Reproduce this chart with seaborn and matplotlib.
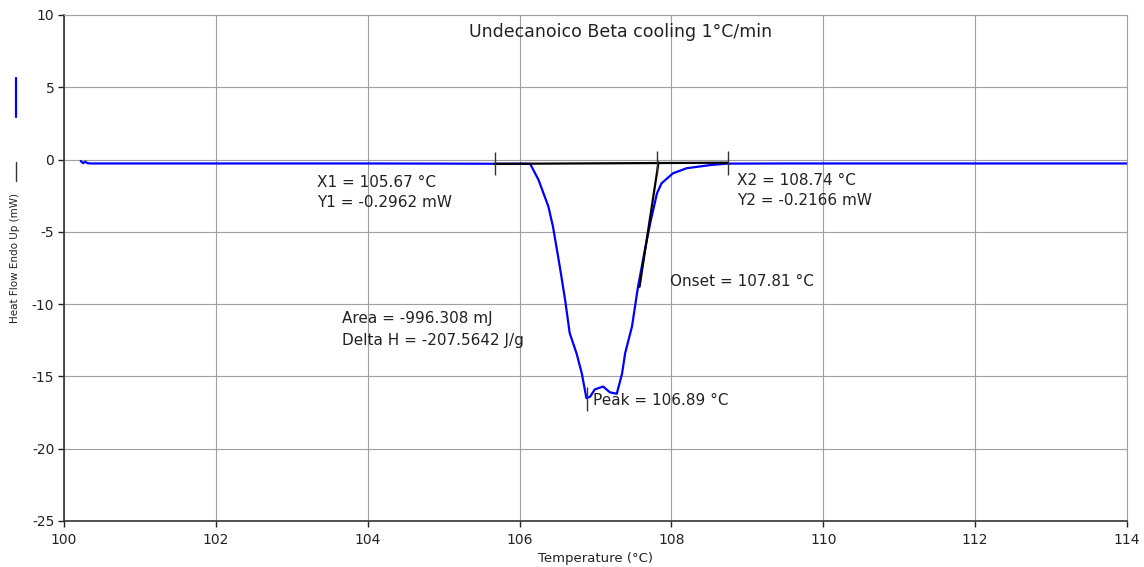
import matplotlib
matplotlib.use("Agg")
import matplotlib.pyplot as plt
import seaborn as sns
import pandas as pd
from matplotlib.lines import Line2D

# ---- data ----
temperature = [100.22, 100.25, 100.28, 100.31, 100.35, 101.0, 102.0, 103.0, 104.0, 105.0,
               105.67, 106.0, 106.14, 106.25, 106.38, 106.44, 106.53, 106.60, 106.66,
               106.75, 106.82, 106.88, 106.93, 106.99, 107.10, 107.19, 107.28, 107.35,
               107.39, 107.48, 107.56, 107.65, 107.72, 107.81, 107.87, 108.02, 108.20,
               108.51, 108.74, 109.5, 110.0, 111.0, 112.0, 113.0, 114.0]
heat_flow = [-0.10, -0.25, -0.15, -0.25, -0.27, -0.27, -0.27, -0.27, -0.27, -0.28,
             -0.29, -0.29, -0.30, -1.41, -3.26, -4.64, -7.41, -9.71, -12.0,
             -13.4, -14.8, -16.5, -16.4, -15.9, -15.7, -16.1, -16.2, -14.8,
             -13.4, -11.56, -8.79, -6.26, -4.41, -2.33, -1.64, -0.95, -0.60,
             -0.38, -0.28, -0.27, -0.27, -0.27, -0.27, -0.27, -0.27]

x1, y1 = 105.67, -0.2962
x2, y2 = 108.74, -0.2166
onset_x = 107.81
peak_x, peak_y = 106.89, -16.5
tangent_x = [107.83, 107.58]
tangent_y = [-0.20, -8.8]

title = "Undecanoico Beta cooling 1°C/min"
x_label = "Temperature (°C)"
y_label = "Heat Flow Endo Up (mW)"
x_ticks = [100, 102, 104, 106, 108, 110, 112, 114]
y_ticks = [-25, -20, -15, -10, -5, 0, 5, 10]

annotations = [
    (103.33, -1.6, "X1 = 105.67 °C"),
    (103.33, -3.0, "Y1 = -0.2962 mW"),
    (108.87, -1.46, "X2 = 108.74 °C"),
    (108.87, -2.8, "Y2 = -0.2166 mW"),
    (103.66, -11.0, "Area = -996.308 mJ"),
    (103.66, -12.5, "Delta H = -207.5642 J/g"),
    (107.98, -8.4, "Onset = 107.81 °C"),
    (106.97, -16.65, "Peak = 106.89 °C"),
]

# ---- style ----
sns.set_theme(style="white")
plt.rcParams["font.family"] = ["DejaVu Sans"]

fig = plt.figure(figsize=(11.44, 5.67), dpi=100)
ax = fig.add_axes([64 / 1144, 1 - 521 / 567, (1127 - 64) / 1144, (521 - 15) / 567])

df = pd.DataFrame({"T": temperature, "HF": heat_flow})
sns.lineplot(data=df, x="T", y="HF", sort=False, color="#0000ff", lw=1.6, ax=ax, zorder=3)

# baseline and tangent
sns.lineplot(x=[x1, x2], y=[y1, y2], color="black", lw=1.6, ax=ax, zorder=4)
sns.lineplot(x=tangent_x, y=tangent_y, color="black", lw=1.6, ax=ax, zorder=4, sort=False)

# markers
ax.vlines([x1, x2, onset_x], [-1.1, -1.1, -1.0], [0.5, 0.6, 0.6], color="#333333", lw=1.0, zorder=5)
ax.vlines([peak_x], [-17.4], [-15.7], color="#333333", lw=1.0, zorder=5)

for x, y, s in annotations:
    ax.text(x, y, s, fontsize=11, color="#222222", ha="left", va="center", zorder=6)

ax.set_xlim(100, 114)
ax.set_ylim(-25, 10)
ax.set_xticks(x_ticks)
ax.set_yticks(y_ticks)
ax.set_xticklabels([str(t) for t in x_ticks])
ax.set_yticklabels([str(t) for t in y_ticks])
ax.grid(True, color="#a0a0a0", lw=0.8)
ax.set_axisbelow(True)
ax.tick_params(axis="both", labelsize=10, colors="#222222", length=4, width=1,
               direction="out", bottom=True, left=True)
ax.tick_params(axis="x", pad=5)
ax.tick_params(axis="y", pad=3)
for side in ["left", "bottom"]:
    ax.spines[side].set_color("#333333")
    ax.spines[side].set_linewidth(1.2)
for side in ["top", "right"]:
    ax.spines[side].set_color("#a0a0a0")
    ax.spines[side].set_linewidth(0.8)

ax.set_xlabel(x_label, fontsize=9.5, color="#222222", labelpad=3)
ax.set_ylabel("")
ax.text(0.524, 0.967, title, transform=ax.transAxes, fontsize=12.5, color="#222222",
        ha="center", va="center")

fig.text(15 / 1144, 1 - 258 / 567, y_label, rotation=90, fontsize=7.5, color="#222222",
         ha="center", va="center")
fig.add_artist(Line2D([16 / 1144, 16 / 1144], [1 - 78 / 567, 1 - 117 / 567], color="#0000ff", lw=1.6))
fig.add_artist(Line2D([16 / 1144, 16 / 1144], [1 - 162 / 567, 1 - 181 / 567], color="#333333", lw=1.0))

fig.savefig("out.png", dpi=100)
